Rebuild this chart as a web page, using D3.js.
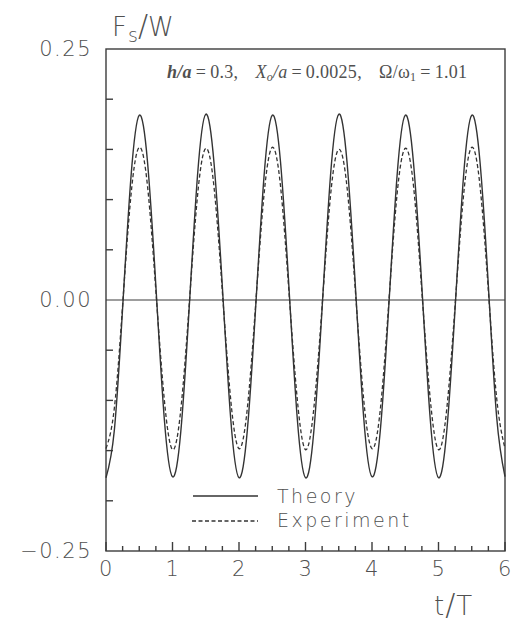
<!DOCTYPE html>
<meta charset="utf-8">
<script src="https://d3js.org/d3.v7.min.js"></script>
<style>
  body { margin: 0; background: #fff; }
  svg text { fill: #505050; }
</style>
<svg id="chart" width="512" height="630"></svg>

<script>
    // sample times t/T, every 1/8 period
    const tValues = d3.range(0, 49).map(i => i / 8);

    // theory force ratio
    const theory = [
        -0.177, -0.130, -0.008, 0.122, 0.184, 0.137, 0.014, -0.117,
        -0.176, -0.131, -0.009, 0.123, 0.185, 0.136, 0.013, -0.118,
        -0.177, -0.130, -0.008, 0.122, 0.184, 0.137, 0.014, -0.117,
        -0.177, -0.131, -0.008, 0.123, 0.185, 0.137, 0.014, -0.117,
        -0.176, -0.130, -0.009, 0.122, 0.184, 0.136, 0.013, -0.118,
        -0.177, -0.130, -0.008, 0.122, 0.184, 0.137, 0.014, -0.117,
        -0.176
    ];

    // experiment
    const experiment = [
        -0.148, -0.108, -0.005, 0.104, 0.152, 0.113, 0.009, -0.098,
        -0.149, -0.109, -0.006, 0.103, 0.151, 0.112, 0.008, -0.099,
        -0.148, -0.108, -0.005, 0.104, 0.152, 0.113, 0.009, -0.098,
        -0.149, -0.108, -0.006, 0.103, 0.150, 0.112, 0.009, -0.099,
        -0.148, -0.109, -0.005, 0.104, 0.151, 0.113, 0.008, -0.098,
        -0.149, -0.108, -0.005, 0.103, 0.152, 0.113, 0.009, -0.098,
        -0.148
    ];

    const xLabelTicks = [0, 1, 2, 3, 4, 5, 6];
    const xMinorTicks = [0.25, 0.5, 0.75, 1.25, 1.5, 1.75, 2.25, 2.5, 2.75,
        3.25, 3.5, 3.75, 4.25, 4.5, 4.75, 5.25, 5.5, 5.75];
    const yLabelTicks = [-0.25, 0, 0.25];
    const yMinorTicks = [-0.20, -0.15, -0.10, -0.05, 0.05, 0.10, 0.15, 0.20];

    const svg = d3.select("#chart");
    const plotLeft = 106, plotRight = 505, plotTop = 49, plotBottom = 551;
    const ink = "#3c3c3c";

    const x = d3.scaleLinear().domain([0, 6]).range([plotLeft, plotRight]);
    const y = d3.scaleLinear().domain([-0.25, 0.25]).range([plotBottom, plotTop]);

    // frame
    svg.append("rect")
        .attr("x", plotLeft).attr("y", plotTop)
        .attr("width", plotRight - plotLeft).attr("height", plotBottom - plotTop)
        .attr("fill", "none").attr("stroke", ink).attr("stroke-width", 1.4);

    // zero line
    svg.append("line")
        .attr("x1", plotLeft).attr("x2", plotRight)
        .attr("y1", y(0)).attr("y2", y(0))
        .attr("stroke", ink).attr("stroke-width", 1.2);

    const tickFont = g => g.selectAll("text")
        .attr("font-family", "DejaVu Sans, sans-serif")
        .attr("font-weight", 200)
        .attr("font-size", 21)
        .attr("letter-spacing", 1.5)
        .attr("fill", "#505050");

    // tick labels
    svg.append("g")
        .attr("transform", `translate(${plotLeft},0)`)
        .call(d3.axisLeft(y).tickValues(yLabelTicks).tickSize(0).tickPadding(14)
            .tickFormat(d3.format(".2f")))
        .call(g => g.select(".domain").remove())
        .call(tickFont);

    svg.append("g")
        .attr("transform", `translate(0,${plotBottom})`)
        .call(d3.axisBottom(x).tickValues(xLabelTicks).tickSize(0).tickPadding(10)
            .tickFormat(d3.format("d")))
        .call(g => g.select(".domain").remove())
        .call(tickFont);

    // inward tick marks
    const ticks = svg.append("g").attr("stroke", ink).attr("stroke-width", 1.4);
    ticks.selectAll(".ty")
        .data(yMinorTicks)
        .join("line")
          .attr("class", "ty")
          .attr("x1", plotLeft).attr("x2", plotLeft + 7)
          .attr("y1", d => y(d)).attr("y2", d => y(d));
    ticks.selectAll(".tx")
        .data(xLabelTicks.concat(xMinorTicks))
        .join("line")
          .attr("class", "tx")
          .attr("x1", d => x(d)).attr("x2", d => x(d))
          .attr("y1", plotBottom)
          .attr("y2", d => plotBottom - (d % 1 === 0 ? 9 : 5));

    // curves
    const line = d3.line()
        .x((d, i) => x(tValues[i]))
        .y(d => y(d))
        .curve(d3.curveNatural);

    svg.append("path")
        .datum(theory)
        .attr("d", line)
        .attr("fill", "none").attr("stroke", "#333").attr("stroke-width", 1.4);

    svg.append("path")
        .datum(experiment)
        .attr("d", line)
        .attr("fill", "none").attr("stroke", "#333").attr("stroke-width", 1.3)
        .attr("stroke-dasharray", "4,2.5");

    // legend
    const legend = svg.append("g");
    legend.append("line")
        .attr("x1", 193).attr("x2", 258).attr("y1", 496).attr("y2", 496)
        .attr("stroke", "#333").attr("stroke-width", 1.3);
    legend.append("line")
        .attr("x1", 192).attr("x2", 258).attr("y1", 521).attr("y2", 521)
        .attr("stroke", "#333").attr("stroke-width", 1.3)
        .attr("stroke-dasharray", "4,2.5");
    legend.selectAll("text")
        .data(["Theory", "Experiment"])
        .join("text")
          .attr("x", 277)
          .attr("y", (d, i) => 503 + i * 24)
          .attr("font-family", "DejaVu Sans, sans-serif")
          .attr("font-weight", 200)
          .attr("font-size", 19)
          .attr("letter-spacing", 2.5)
          .text(d => d);

    // axis titles
    const title = svg.append("text")
        .attr("x", 112).attr("y", 36)
        .attr("font-family", "DejaVu Sans, sans-serif")
        .attr("font-weight", 200)
        .attr("font-size", 26);
    title.append("tspan").text("F");
    title.append("tspan").attr("font-size", 19).attr("dy", 6).attr("dx", 1).text("s");
    title.append("tspan").attr("dy", -6).attr("font-size", 30).text("/");
    title.append("tspan").text("W");

    const xt = svg.append("text")
        .attr("x", 434).attr("y", 615)
        .attr("font-family", "DejaVu Sans, sans-serif")
        .attr("font-weight", 200)
        .attr("font-size", 26);
    xt.append("tspan").text("t");
    xt.append("tspan").attr("font-size", 30).attr("dx", 1).text("/");
    xt.append("tspan").attr("dx", 1).text("T");

    // parameter note
    const note = svg.append("text")
        .attr("x", 167).attr("y", 78)
        .attr("font-family", "Liberation Serif, serif")
        .attr("font-size", 18)
        .attr("letter-spacing", 0.3)
        .attr("fill", "#222");
    note.append("tspan").attr("font-style", "italic").attr("font-weight", "bold").text("h/a");
    note.append("tspan").text("\u2009=\u20090.3,");
    note.append("tspan").attr("dx", 17).attr("font-style", "italic").text("X");
    note.append("tspan").attr("font-style", "italic").attr("font-size", 12).attr("dy", 3).text("o");
    note.append("tspan").attr("font-style", "italic").attr("dy", -3).text("/a");
    note.append("tspan").text("\u2009=\u20090.0025,");
    note.append("tspan").attr("dx", 17).text("Ω/ω");
    note.append("tspan").attr("font-size", 12).attr("dy", 3).text("1");
    note.append("tspan").attr("dy", -3).text("\u2009=\u20091.01");
</script>
